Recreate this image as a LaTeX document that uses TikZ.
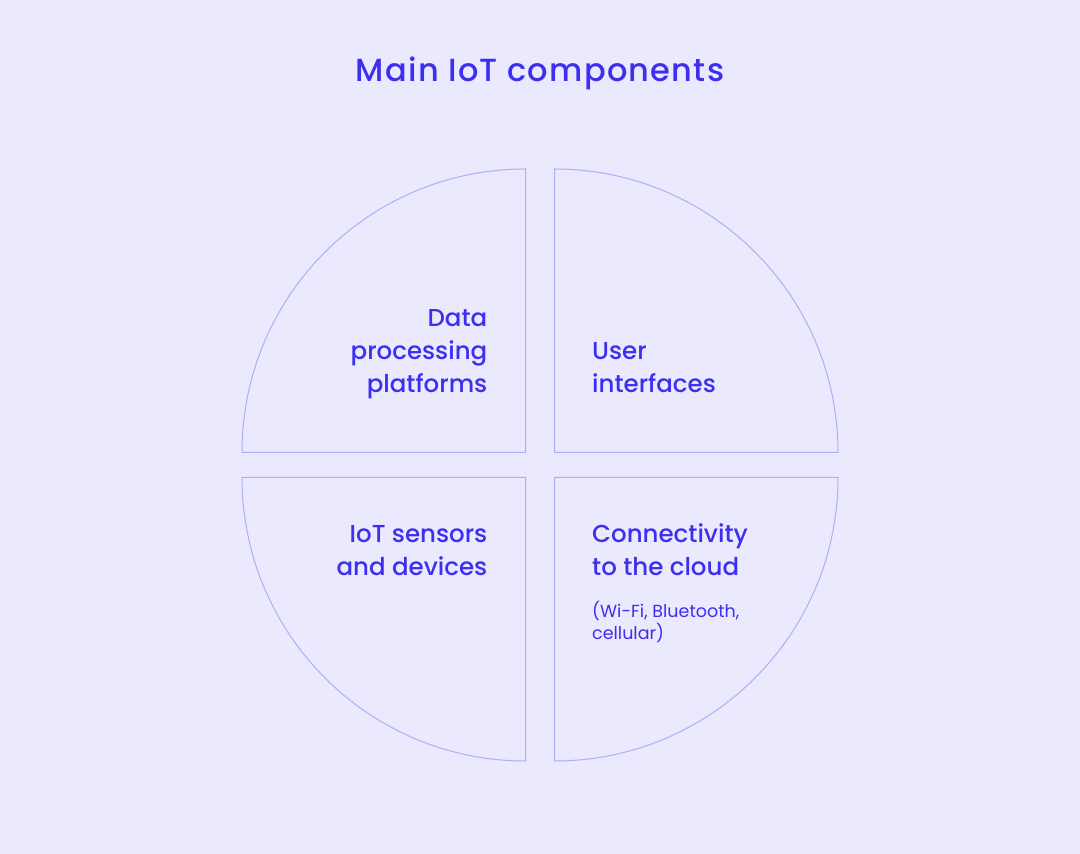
\documentclass[tikz,border=0pt]{standalone}
\usepackage{fontspec}
\setmainfont{Poppins}
\newfontfamily\medfont{Poppins Medium}
\newfontfamily\titlefont[LetterSpace=4]{Poppins Medium}
\usepackage{tikz}
\usetikzlibrary{calc}
\usetikzlibrary{math}
\usepackage{xcolor}
\definecolor{myBack}{HTML}{EBE9FE}
\definecolor{myBlue}{HTML}{3D2FF0}
\definecolor{myLine}{HTML}{B2ACF6}
\tikzset{
  quarter/.style={draw=myLine, line width=1pt, miter limit=10},
  lbl/.style={inner sep=0pt, text=myBlue, font=\medfont\fontsize{24.5}{24.5}\selectfont},
  note/.style={inner sep=0pt, text=myBlue, font=\fontsize{17.5}{17.5}\selectfont}
}

\begin{document}
\begin{tikzpicture}[x=1pt,y=1pt]

%%%%%%%%%%%%%%%%%%%%%%%%%%%%%%%%%%%%%%%%%%%%%%%%%%%%%%%%%%%%%% Setup
\fill[myBack] (0,0) rectangle (1080,854);
\useasboundingbox (0,0) rectangle (1080,854);
\coordinate (C) at (540, 389);
\tikzmath{\r = 283.5;}

\node[lbl, anchor=base, font=\titlefont\fontsize{32}{32}\selectfont] (title) at ($(C)+(0,383)$) {Main IoT components};

%%%%%%%%%%%%%%%%%%%%%%%%%%%%%%%%%%%%%%%%%%%%%%%%%%%%%%%%%%%%%% Quarters
\draw[quarter] ($(C)+(-14.5,12.5)$) -- ++(-\r,0) arc[start angle=180, end angle=90, radius=\r] -- cycle;
\draw[quarter] ($(C)+(14.5,12.5)$) -- ++(\r,0) arc[start angle=0, end angle=90, radius=\r] -- cycle;
\draw[quarter] ($(C)+(-14.5,-12.5)$) -- ++(-\r,0) arc[start angle=180, end angle=270, radius=\r] -- cycle;
\draw[quarter] ($(C)+(14.5,-12.5)$) -- ++(\r,0) arc[start angle=0, end angle=-90, radius=\r] -- cycle;

%%%%%%%%%%%%%%%%%%%%%%%%%%%%%%%%%%%%%%%%%%%%%%%%%%%%%%%%%%%%%% Labels
\node[lbl, anchor=base east] (data1) at ($(C)+(-52.5,138)$) {Data};
\node[lbl, anchor=base east] (data2) at ($(C)+(-52.5,105)$) {processing};
\node[lbl, anchor=base east] (data3) at ($(C)+(-52.5,72)$) {platforms};

\node[lbl, anchor=base west] (user1) at ($(C)+(52,105)$) {User};
\node[lbl, anchor=base west] (user2) at ($(C)+(52,72)$) {interfaces};

\node[lbl, anchor=base east] (sens1) at ($(C)+(-52.5,-78)$) {IoT sensors};
\node[lbl, anchor=base east] (sens2) at ($(C)+(-52.5,-111)$) {and devices};

\node[lbl, anchor=base west] (conn1) at ($(C)+(52,-78)$) {Connectivity};
\node[lbl, anchor=base west] (conn2) at ($(C)+(52,-111)$) {to the cloud};
\node[note, anchor=base west] (conn3) at ($(C)+(52,-153)$) {(Wi-Fi, Bluetooth,};
\node[note, anchor=base west] (conn4) at ($(C)+(52,-175)$) {cellular)};

\end{tikzpicture}
\end{document}
